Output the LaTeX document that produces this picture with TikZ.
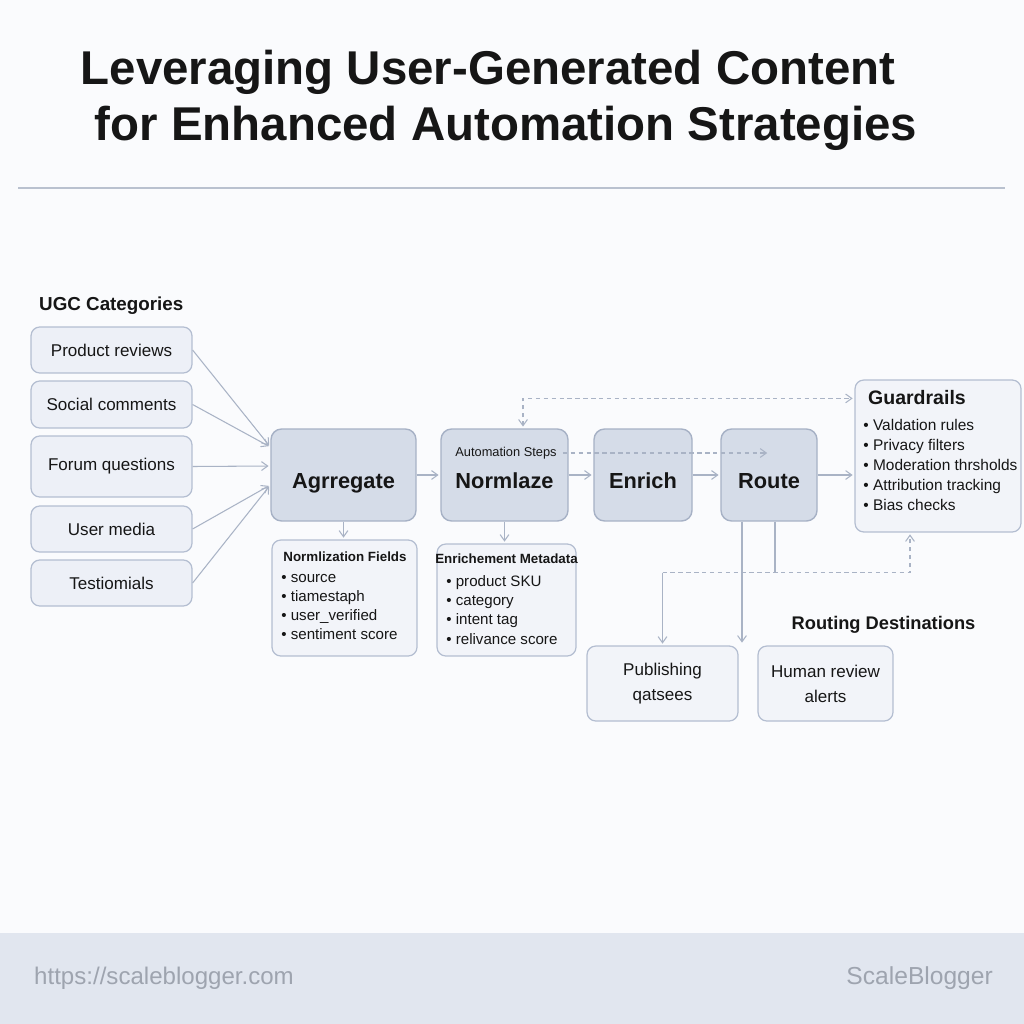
\documentclass[tikz,border=0pt]{standalone}
\usepackage{fontspec}
\setmainfont{Liberation Sans}
\usepackage{xcolor}
\usepackage{tikz}
\usetikzlibrary{arrows.meta, positioning, calc}

\definecolor{pagebg}{HTML}{FAFBFD}
\definecolor{footbg}{HTML}{E1E6EF}
\definecolor{footc}{HTML}{9EA4AF}
\definecolor{rulec}{HTML}{B9C1CF}
\definecolor{stepfill}{HTML}{D5DCE8}
\definecolor{stepline}{HTML}{A6B1C5}
\definecolor{boxfill}{HTML}{EDF0F7}
\definecolor{boxline}{HTML}{B4BED1}
\definecolor{linec}{HTML}{A9B3C5}
\definecolor{textc}{HTML}{161616}

\begin{document}
\begin{tikzpicture}[x=0.02cm, y=-0.02cm, text=textc,
  catbox/.style={draw=boxline, fill=boxfill, rounded corners=5pt, line width=0.7pt,
    minimum width=3.22cm, font=\fontsize{9.7}{12}\selectfont},
  stepbox/.style={draw=stepline, fill=stepfill, rounded corners=6pt, line width=0.8pt,
    minimum height=1.84cm, text height=14.8pt, text depth=0pt,
    font=\bfseries\fontsize{12.4}{15}\selectfont},
  infobox/.style={draw=boxline, fill=boxfill!70!white, rounded corners=5pt, line width=0.7pt},
  infohead/.style={font=\bfseries\fontsize{7.6}{9}\selectfont},
  infolist/.style={align=left, inner sep=0pt, anchor=west, font=\fontsize{8.6}{10.9}\selectfont},
  destbox/.style={infobox, minimum height=1.5cm, align=center, font=\fontsize{9.7}{14.2}\selectfont},
  conn/.style={draw=linec, line width=0.6pt, shorten >=1pt, -{Straight Barb[length=3.5pt,width=5pt]}},
  dconn/.style={conn, dash pattern=on 2.5pt off 2pt}]

\fill[pagebg] (0,0) rectangle (1024,1024);
\useasboundingbox (0,0) rectangle (1024,1024);

% title and footer
\node[font=\bfseries\fontsize{27}{32}\selectfont] (title1) at (488,72) {Leveraging User-Generated Content};
\node[font=\bfseries\fontsize{27}{32}\selectfont] (title2) at (506,128) {for Enhanced Automation Strategies};
\draw[rulec, line width=1pt] (18,188) -- (1005,188);
\fill[footbg] (0,933) rectangle (1024,1024);
\node[anchor=west, text=footc, font=\fontsize{13.7}{16}\selectfont] (url) at (28,978) {https://scaleblogger.com};
\node[anchor=east, text=footc, font=\fontsize{14}{16}\selectfont] (brand) at (999,978) {ScaleBlogger};

% UGC categories
\node[anchor=west, font=\bfseries\fontsize{10.7}{13}\selectfont] (ugclbl) at (33,306) {UGC Categories};
\node[catbox, minimum height=0.92cm] (prod) at (111.5,350) {Product reviews};
\node[catbox, minimum height=0.94cm] (social) at (111.5,404.5) {Social comments};
\node[catbox, minimum height=1.22cm] (forum) at (111.5,466.5) {Forum questions};
\node[catbox, minimum height=0.92cm] (media) at (111.5,529) {User media};
\node[catbox, minimum height=0.92cm] (testi) at (111.5,583) {Testiomials};

% automation steps
\node[stepbox, minimum width=2.9cm] (agg) at (343.5,475) {Agrregate};
\node[stepbox, minimum width=2.54cm] (norm) at (504.5,475) {Normlaze};
\node[stepbox, minimum width=1.96cm] (enrich) at (643,475) {Enrich};
\node[stepbox, minimum width=1.92cm] (route) at (769,475) {Route};
\node[font=\fontsize{7.3}{9}\selectfont] (autolbl) at (506,453) {Automation Steps};

% fields and metadata
\node[infobox, minimum width=2.9cm, minimum height=2.32cm] (normbox) at (344.5,598) {};
\node[infohead] (normhead) at (345,557) {Normlization Fields};
\node[infolist] (normlist) at (281,607) {• source\\• tiamestaph\\• user\_verified\\• sentiment score};
\node[infobox, minimum width=2.78cm, minimum height=2.24cm] (enrbox) at (506.5,600) {};
\node[infohead] (enrhead) at (506.5,559) {Enrichement Metadata};
\node[infolist] (enrlist) at (446,610) {• product SKU\\• category\\• intent tag\\• relivance score};

% guardrails
\node[infobox, minimum width=3.32cm, minimum height=3.04cm] (guard) at (938,456) {};
\node[anchor=west, font=\bfseries\fontsize{11.1}{13}\selectfont] (guardhead) at (862,398) {Guardrails};
\node[infolist, font=\fontsize{8.8}{11.3}\selectfont] (guardlist) at (863,465)
  {• Valdation rules\\• Privacy filters\\• Moderation thrsholds\\• Attribution tracking\\• Bias checks};

% routing destinations
\node[font=\bfseries\fontsize{10.4}{13}\selectfont] (routelbl) at (883.5,625) {Routing Destinations};
\node[destbox, minimum width=3.02cm] (pub) at (662.5,683.5) {Publishing\\qatsees};
\node[destbox, minimum width=2.7cm] (human) at (825.5,683.5) {Human review\\alerts};

% connectors
\foreach \src/\dy in {prod/-28, social/-28, forum/-9, media/10, testi/10}
  \draw[conn] (\src.east) -- ($(agg.west)+(0,\dy)$);
\draw[conn] (agg) -- (norm);
\draw[conn] (norm) -- (enrich);
\draw[conn] (enrich) -- (route);
\draw[conn] (route.east) -- (route.east -| guard.west);
\draw[conn] (agg.south) -- (agg.south |- normbox.north);
\draw[conn] (norm.south) -- (norm.south |- enrbox.north);
\draw[dconn, shorten <=1pt, {Straight Barb[length=3.5pt,width=5pt]}-{Straight Barb[length=3.5pt,width=5pt]}]
  ($(norm.north)+(18.5,0)$) |- ($(guard.north west)+(0,19)$);
\draw[dconn] (autolbl.east) -- (autolbl.east -| route);
\coordinate (rdrop) at ($(route.south)+(-27,0)$);
\coordinate (rsplit) at ($(route.south)+(6,0)$);
\coordinate (rjoin) at ($(rsplit)+(0,51)$);
\draw[conn] (rdrop) -- ($(rdrop |- pub.north)+(0,-1)$);
\draw[draw=linec, line width=0.6pt] (rsplit) -- (rjoin);
\draw[dconn] (pub.north |- rjoin) -| ($(guard.south)+(-28,0)$);
\draw[conn] (pub.north |- rjoin) -- (pub.north);
\end{tikzpicture}
\end{document}
